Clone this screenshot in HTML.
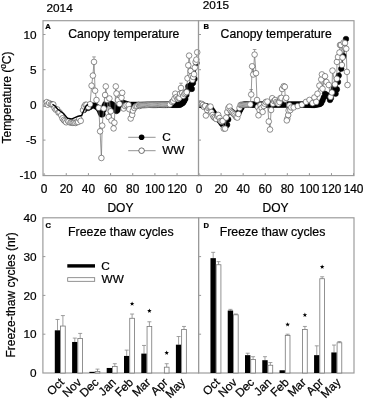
<!DOCTYPE html><html><head><meta charset="utf-8"><style>html,body{margin:0;padding:0;background:#fff;overflow:hidden}</style></head><body><svg width="365" height="400" viewBox="0 0 365 400" font-family="'Liberation Sans', sans-serif" style="display:block;filter:grayscale(1)">
<rect width="365" height="400" fill="#fff"/>
<style>text{stroke:#000;stroke-width:0.22px;fill:#000}</style>
<defs>
<clipPath id="cA"><rect x="43" y="20.7" width="158.5" height="154.9"/></clipPath>
<clipPath id="cB"><rect x="198.5" y="20.7" width="158.5" height="154.9"/></clipPath>
</defs>
<g clip-path="url(#cA)">
<polyline points="84,110 86,107.5 88,108 90,107 92,105.5 94,105.5 96,106.4 98,108 99.5,110 100.5,112.5 101.5,114.5 102.5,114.2 103.5,110 104.5,106 105.5,104 107,103 108.5,103 110,103.5 111.5,104 113,105 114.5,108 115.5,110 116.5,111 117.5,110 118.5,107 119.5,105 120.5,104 122,103 123.5,103 125,103.5 126.5,104 128,104.5 129.1,104.9 130.2,104.9 131.31,104.9 132.41,104.9 133.52,104.9 134.62,104.9 135.73,104.9 136.83,104.9 137.94,104.9 139.04,104.9 140.15,104.9 141.25,104.9 142.36,104.9 143.46,104.9 144.57,104.9 145.67,104.9 146.78,104.9 147.88,104.9 148.99,104.9 150.09,104.9 151.2,104.9 152.3,104.89 153.41,104.89 154.51,104.88 155.62,104.88 156.72,104.88 157.83,104.87 158.93,104.87 160.04,104.87 161.14,104.86 162.25,104.86 163.35,104.86 164.46,104.85 165.56,104.85 166.67,104.84 167.77,104.84 168.88,104.84 169.98,104.83 171.09,104.83 172.19,104.83 173.3,104.82 174.4,104.82 175.51,104.81 176.61,104.81 177.72,104.81 178.82,104.8 179.93,104.8 181,104 182.2,103.5 183.3,102.5 184.2,101 185.3,99 186.4,95 187.3,91 188.3,86.4 189.3,87 190.5,86 191.6,84 191.8,88.9 193,83 194.5,79 196.5,63" fill="none" stroke="#000" stroke-width="0.9" stroke-linejoin="round"/>
<circle cx="84" cy="110" r="2.8" fill="#000" stroke="#000" stroke-width="0.5"/>
<circle cx="86" cy="107.5" r="2.8" fill="#000" stroke="#000" stroke-width="0.5"/>
<circle cx="88" cy="108" r="2.8" fill="#000" stroke="#000" stroke-width="0.5"/>
<circle cx="90" cy="107" r="2.8" fill="#000" stroke="#000" stroke-width="0.5"/>
<circle cx="92" cy="105.5" r="2.8" fill="#000" stroke="#000" stroke-width="0.5"/>
<circle cx="94" cy="105.5" r="2.8" fill="#000" stroke="#000" stroke-width="0.5"/>
<circle cx="96" cy="106.4" r="2.8" fill="#000" stroke="#000" stroke-width="0.5"/>
<circle cx="98" cy="108" r="2.8" fill="#000" stroke="#000" stroke-width="0.5"/>
<circle cx="99.5" cy="110" r="2.8" fill="#000" stroke="#000" stroke-width="0.5"/>
<circle cx="100.5" cy="112.5" r="2.8" fill="#000" stroke="#000" stroke-width="0.5"/>
<circle cx="101.5" cy="114.5" r="2.8" fill="#000" stroke="#000" stroke-width="0.5"/>
<circle cx="102.5" cy="114.2" r="2.8" fill="#000" stroke="#000" stroke-width="0.5"/>
<circle cx="103.5" cy="110" r="2.8" fill="#000" stroke="#000" stroke-width="0.5"/>
<circle cx="104.5" cy="106" r="2.8" fill="#000" stroke="#000" stroke-width="0.5"/>
<circle cx="105.5" cy="104" r="2.8" fill="#000" stroke="#000" stroke-width="0.5"/>
<circle cx="107" cy="103" r="2.8" fill="#000" stroke="#000" stroke-width="0.5"/>
<circle cx="108.5" cy="103" r="2.8" fill="#000" stroke="#000" stroke-width="0.5"/>
<circle cx="110" cy="103.5" r="2.8" fill="#000" stroke="#000" stroke-width="0.5"/>
<circle cx="111.5" cy="104" r="2.8" fill="#000" stroke="#000" stroke-width="0.5"/>
<circle cx="113" cy="105" r="2.8" fill="#000" stroke="#000" stroke-width="0.5"/>
<circle cx="114.5" cy="108" r="2.8" fill="#000" stroke="#000" stroke-width="0.5"/>
<circle cx="115.5" cy="110" r="2.8" fill="#000" stroke="#000" stroke-width="0.5"/>
<circle cx="116.5" cy="111" r="2.8" fill="#000" stroke="#000" stroke-width="0.5"/>
<circle cx="117.5" cy="110" r="2.8" fill="#000" stroke="#000" stroke-width="0.5"/>
<circle cx="118.5" cy="107" r="2.8" fill="#000" stroke="#000" stroke-width="0.5"/>
<circle cx="119.5" cy="105" r="2.8" fill="#000" stroke="#000" stroke-width="0.5"/>
<circle cx="120.5" cy="104" r="2.8" fill="#000" stroke="#000" stroke-width="0.5"/>
<circle cx="122" cy="103" r="2.8" fill="#000" stroke="#000" stroke-width="0.5"/>
<circle cx="123.5" cy="103" r="2.8" fill="#000" stroke="#000" stroke-width="0.5"/>
<circle cx="125" cy="103.5" r="2.8" fill="#000" stroke="#000" stroke-width="0.5"/>
<circle cx="126.5" cy="104" r="2.8" fill="#000" stroke="#000" stroke-width="0.5"/>
<circle cx="128" cy="104.5" r="2.8" fill="#000" stroke="#000" stroke-width="0.5"/>
<circle cx="129.1" cy="104.9" r="2.8" fill="#000" stroke="#000" stroke-width="0.5"/>
<circle cx="130.2" cy="104.9" r="2.8" fill="#000" stroke="#000" stroke-width="0.5"/>
<circle cx="131.31" cy="104.9" r="2.8" fill="#000" stroke="#000" stroke-width="0.5"/>
<circle cx="132.41" cy="104.9" r="2.8" fill="#000" stroke="#000" stroke-width="0.5"/>
<circle cx="133.52" cy="104.9" r="2.8" fill="#000" stroke="#000" stroke-width="0.5"/>
<circle cx="134.62" cy="104.9" r="2.8" fill="#000" stroke="#000" stroke-width="0.5"/>
<circle cx="135.73" cy="104.9" r="2.8" fill="#000" stroke="#000" stroke-width="0.5"/>
<circle cx="136.83" cy="104.9" r="2.8" fill="#000" stroke="#000" stroke-width="0.5"/>
<circle cx="137.94" cy="104.9" r="2.8" fill="#000" stroke="#000" stroke-width="0.5"/>
<circle cx="139.04" cy="104.9" r="2.8" fill="#000" stroke="#000" stroke-width="0.5"/>
<circle cx="140.15" cy="104.9" r="2.8" fill="#000" stroke="#000" stroke-width="0.5"/>
<circle cx="141.25" cy="104.9" r="2.8" fill="#000" stroke="#000" stroke-width="0.5"/>
<circle cx="142.36" cy="104.9" r="2.8" fill="#000" stroke="#000" stroke-width="0.5"/>
<circle cx="143.46" cy="104.9" r="2.8" fill="#000" stroke="#000" stroke-width="0.5"/>
<circle cx="144.57" cy="104.9" r="2.8" fill="#000" stroke="#000" stroke-width="0.5"/>
<circle cx="145.67" cy="104.9" r="2.8" fill="#000" stroke="#000" stroke-width="0.5"/>
<circle cx="146.78" cy="104.9" r="2.8" fill="#000" stroke="#000" stroke-width="0.5"/>
<circle cx="147.88" cy="104.9" r="2.8" fill="#000" stroke="#000" stroke-width="0.5"/>
<circle cx="148.99" cy="104.9" r="2.8" fill="#000" stroke="#000" stroke-width="0.5"/>
<circle cx="150.09" cy="104.9" r="2.8" fill="#000" stroke="#000" stroke-width="0.5"/>
<circle cx="151.2" cy="104.9" r="2.8" fill="#000" stroke="#000" stroke-width="0.5"/>
<circle cx="152.3" cy="104.89" r="2.8" fill="#000" stroke="#000" stroke-width="0.5"/>
<circle cx="153.41" cy="104.89" r="2.8" fill="#000" stroke="#000" stroke-width="0.5"/>
<circle cx="154.51" cy="104.88" r="2.8" fill="#000" stroke="#000" stroke-width="0.5"/>
<circle cx="155.62" cy="104.88" r="2.8" fill="#000" stroke="#000" stroke-width="0.5"/>
<circle cx="156.72" cy="104.88" r="2.8" fill="#000" stroke="#000" stroke-width="0.5"/>
<circle cx="157.83" cy="104.87" r="2.8" fill="#000" stroke="#000" stroke-width="0.5"/>
<circle cx="158.93" cy="104.87" r="2.8" fill="#000" stroke="#000" stroke-width="0.5"/>
<circle cx="160.04" cy="104.87" r="2.8" fill="#000" stroke="#000" stroke-width="0.5"/>
<circle cx="161.14" cy="104.86" r="2.8" fill="#000" stroke="#000" stroke-width="0.5"/>
<circle cx="162.25" cy="104.86" r="2.8" fill="#000" stroke="#000" stroke-width="0.5"/>
<circle cx="163.35" cy="104.86" r="2.8" fill="#000" stroke="#000" stroke-width="0.5"/>
<circle cx="164.46" cy="104.85" r="2.8" fill="#000" stroke="#000" stroke-width="0.5"/>
<circle cx="165.56" cy="104.85" r="2.8" fill="#000" stroke="#000" stroke-width="0.5"/>
<circle cx="166.67" cy="104.84" r="2.8" fill="#000" stroke="#000" stroke-width="0.5"/>
<circle cx="167.77" cy="104.84" r="2.8" fill="#000" stroke="#000" stroke-width="0.5"/>
<circle cx="168.88" cy="104.84" r="2.8" fill="#000" stroke="#000" stroke-width="0.5"/>
<circle cx="169.98" cy="104.83" r="2.8" fill="#000" stroke="#000" stroke-width="0.5"/>
<circle cx="171.09" cy="104.83" r="2.8" fill="#000" stroke="#000" stroke-width="0.5"/>
<circle cx="172.19" cy="104.83" r="2.8" fill="#000" stroke="#000" stroke-width="0.5"/>
<circle cx="173.3" cy="104.82" r="2.8" fill="#000" stroke="#000" stroke-width="0.5"/>
<circle cx="174.4" cy="104.82" r="2.8" fill="#000" stroke="#000" stroke-width="0.5"/>
<circle cx="175.51" cy="104.81" r="2.8" fill="#000" stroke="#000" stroke-width="0.5"/>
<circle cx="176.61" cy="104.81" r="2.8" fill="#000" stroke="#000" stroke-width="0.5"/>
<circle cx="177.72" cy="104.81" r="2.8" fill="#000" stroke="#000" stroke-width="0.5"/>
<circle cx="178.82" cy="104.8" r="2.8" fill="#000" stroke="#000" stroke-width="0.5"/>
<circle cx="179.93" cy="104.8" r="2.8" fill="#000" stroke="#000" stroke-width="0.5"/>
<circle cx="181" cy="104" r="2.8" fill="#000" stroke="#000" stroke-width="0.5"/>
<circle cx="182.2" cy="103.5" r="2.8" fill="#000" stroke="#000" stroke-width="0.5"/>
<circle cx="183.3" cy="102.5" r="2.8" fill="#000" stroke="#000" stroke-width="0.5"/>
<circle cx="184.2" cy="101" r="2.8" fill="#000" stroke="#000" stroke-width="0.5"/>
<circle cx="185.3" cy="99" r="2.8" fill="#000" stroke="#000" stroke-width="0.5"/>
<circle cx="186.4" cy="95" r="2.8" fill="#000" stroke="#000" stroke-width="0.5"/>
<circle cx="187.3" cy="91" r="2.8" fill="#000" stroke="#000" stroke-width="0.5"/>
<circle cx="188.3" cy="86.4" r="2.8" fill="#000" stroke="#000" stroke-width="0.5"/>
<circle cx="189.3" cy="87" r="2.8" fill="#000" stroke="#000" stroke-width="0.5"/>
<circle cx="190.5" cy="86" r="2.8" fill="#000" stroke="#000" stroke-width="0.5"/>
<circle cx="191.6" cy="84" r="2.8" fill="#000" stroke="#000" stroke-width="0.5"/>
<circle cx="191.8" cy="88.9" r="2.8" fill="#000" stroke="#000" stroke-width="0.5"/>
<circle cx="193" cy="83" r="2.8" fill="#000" stroke="#000" stroke-width="0.5"/>
<circle cx="194.5" cy="79" r="2.8" fill="#000" stroke="#000" stroke-width="0.5"/>
<circle cx="196.5" cy="63" r="2.8" fill="#000" stroke="#000" stroke-width="0.5"/>
<polyline points="43.94,103.44 45.32,103.73 46.78,102.11 47.71,104.68 49.16,103.07 50.9,104.15 52.1,104.5 53.28,104.44 54.58,108.13 55.81,109.67 57.2,109.42 58.55,112.62 59.58,112.35 61.22,115.33 62.43,118.31 63.73,120.01 64.84,121.05 66.17,122.3 67.73,120.39 68.58,121.54 70.38,122.68 71.48,122.39 72.7,122.81 73.91,122.78 75.35,122.98 76.71,122.29 78.11,121.98 79.3,118.82 80.72,120.87 83,110.1 84.2,106.5 85.4,104.8 86.5,104.8 88.3,107 90.1,104.2 91.6,85.7 92.9,75.6 94,61.9 95.1,90.7 96.5,100 98.7,107.8 100.1,131.3 101.4,158 102.2,125.6 103.7,108.5 105.1,95 105.8,86.4 107,100 108.7,117 109.4,98.5 110.8,111.3 111.5,120.6 113.6,128.4 114.4,122.7 115.8,86.4 116.5,93.5 118,100 119.5,104 121.5,97.8 122.2,92.8 123.6,108.5 125,106 126.5,105 128.6,104.9 129.3,109.2 130.7,118.5 132.2,114.9 132.9,110.6 134.3,108 135.7,106.4 137,106 138.6,104.9 139.5,106 140.1,105.19 141.2,105.13 142.31,105.06 143.41,105 144.52,104.93 145.62,104.86 146.73,104.8 147.83,104.73 148.94,104.66 150.04,104.6 151.15,104.59 152.25,104.58 153.36,104.57 154.46,104.56 155.57,104.55 156.67,104.54 157.78,104.53 158.88,104.52 159.99,104.51 161.09,104.5 162.2,104.49 163.3,104.48 164.41,104.47 165.51,104.46 166.62,104.45 167.72,104.44 168.83,104.43 169.93,104.42 172,101.9 173.2,101 174.5,98.6 175.3,93.7 176.5,97 177.6,99 178.5,98 179.4,97.8 180.2,93.7 181,88 182.2,93 183.3,96 184.4,94 185.5,93 186.7,92.1 187.5,78.3 188.3,65.3 189.1,55.6 190.7,71 191.5,76 192.4,79.9 193.2,77 194,74.2 194.8,67.7 195.6,62 196.4,59.6 197.2,52.3" fill="none" stroke="#777" stroke-width="0.75" stroke-linejoin="round"/>
<circle cx="43.94" cy="103.44" r="2.8" fill="#fff" stroke="#444" stroke-width="0.6"/>
<circle cx="45.32" cy="103.73" r="2.8" fill="#fff" stroke="#444" stroke-width="0.6"/>
<circle cx="46.78" cy="102.11" r="2.8" fill="#fff" stroke="#444" stroke-width="0.6"/>
<circle cx="47.71" cy="104.68" r="2.8" fill="#fff" stroke="#444" stroke-width="0.6"/>
<circle cx="49.16" cy="103.07" r="2.8" fill="#fff" stroke="#444" stroke-width="0.6"/>
<circle cx="50.9" cy="104.15" r="2.8" fill="#fff" stroke="#444" stroke-width="0.6"/>
<circle cx="52.1" cy="104.5" r="2.8" fill="#fff" stroke="#444" stroke-width="0.6"/>
<circle cx="53.28" cy="104.44" r="2.8" fill="#fff" stroke="#444" stroke-width="0.6"/>
<circle cx="54.58" cy="108.13" r="2.8" fill="#fff" stroke="#444" stroke-width="0.6"/>
<circle cx="55.81" cy="109.67" r="2.8" fill="#fff" stroke="#444" stroke-width="0.6"/>
<circle cx="57.2" cy="109.42" r="2.8" fill="#fff" stroke="#444" stroke-width="0.6"/>
<circle cx="58.55" cy="112.62" r="2.8" fill="#fff" stroke="#444" stroke-width="0.6"/>
<circle cx="59.58" cy="112.35" r="2.8" fill="#fff" stroke="#444" stroke-width="0.6"/>
<circle cx="61.22" cy="115.33" r="2.8" fill="#fff" stroke="#444" stroke-width="0.6"/>
<circle cx="62.43" cy="118.31" r="2.8" fill="#fff" stroke="#444" stroke-width="0.6"/>
<circle cx="63.73" cy="120.01" r="2.8" fill="#fff" stroke="#444" stroke-width="0.6"/>
<circle cx="64.84" cy="121.05" r="2.8" fill="#fff" stroke="#444" stroke-width="0.6"/>
<circle cx="66.17" cy="122.3" r="2.8" fill="#fff" stroke="#444" stroke-width="0.6"/>
<circle cx="67.73" cy="120.39" r="2.8" fill="#fff" stroke="#444" stroke-width="0.6"/>
<circle cx="68.58" cy="121.54" r="2.8" fill="#fff" stroke="#444" stroke-width="0.6"/>
<circle cx="70.38" cy="122.68" r="2.8" fill="#fff" stroke="#444" stroke-width="0.6"/>
<circle cx="71.48" cy="122.39" r="2.8" fill="#fff" stroke="#444" stroke-width="0.6"/>
<circle cx="72.7" cy="122.81" r="2.8" fill="#fff" stroke="#444" stroke-width="0.6"/>
<circle cx="73.91" cy="122.78" r="2.8" fill="#fff" stroke="#444" stroke-width="0.6"/>
<circle cx="75.35" cy="122.98" r="2.8" fill="#fff" stroke="#444" stroke-width="0.6"/>
<circle cx="76.71" cy="122.29" r="2.8" fill="#fff" stroke="#444" stroke-width="0.6"/>
<circle cx="78.11" cy="121.98" r="2.8" fill="#fff" stroke="#444" stroke-width="0.6"/>
<circle cx="79.3" cy="118.82" r="2.8" fill="#fff" stroke="#444" stroke-width="0.6"/>
<circle cx="80.72" cy="120.87" r="2.8" fill="#fff" stroke="#444" stroke-width="0.6"/>
<circle cx="83" cy="110.1" r="2.8" fill="#fff" stroke="#444" stroke-width="0.6"/>
<circle cx="84.2" cy="106.5" r="2.8" fill="#fff" stroke="#444" stroke-width="0.6"/>
<circle cx="85.4" cy="104.8" r="2.8" fill="#fff" stroke="#444" stroke-width="0.6"/>
<circle cx="86.5" cy="104.8" r="2.8" fill="#fff" stroke="#444" stroke-width="0.6"/>
<circle cx="88.3" cy="107" r="2.8" fill="#fff" stroke="#444" stroke-width="0.6"/>
<circle cx="90.1" cy="104.2" r="2.8" fill="#fff" stroke="#444" stroke-width="0.6"/>
<circle cx="91.6" cy="85.7" r="2.8" fill="#fff" stroke="#444" stroke-width="0.6"/>
<circle cx="92.9" cy="75.6" r="2.8" fill="#fff" stroke="#444" stroke-width="0.6"/>
<circle cx="94" cy="61.9" r="2.8" fill="#fff" stroke="#444" stroke-width="0.6"/>
<circle cx="95.1" cy="90.7" r="2.8" fill="#fff" stroke="#444" stroke-width="0.6"/>
<circle cx="96.5" cy="100" r="2.8" fill="#fff" stroke="#444" stroke-width="0.6"/>
<circle cx="98.7" cy="107.8" r="2.8" fill="#fff" stroke="#444" stroke-width="0.6"/>
<circle cx="100.1" cy="131.3" r="2.8" fill="#fff" stroke="#444" stroke-width="0.6"/>
<circle cx="101.4" cy="158" r="2.8" fill="#fff" stroke="#444" stroke-width="0.6"/>
<circle cx="102.2" cy="125.6" r="2.8" fill="#fff" stroke="#444" stroke-width="0.6"/>
<circle cx="103.7" cy="108.5" r="2.8" fill="#fff" stroke="#444" stroke-width="0.6"/>
<circle cx="105.1" cy="95" r="2.8" fill="#fff" stroke="#444" stroke-width="0.6"/>
<circle cx="105.8" cy="86.4" r="2.8" fill="#fff" stroke="#444" stroke-width="0.6"/>
<circle cx="107" cy="100" r="2.8" fill="#fff" stroke="#444" stroke-width="0.6"/>
<circle cx="108.7" cy="117" r="2.8" fill="#fff" stroke="#444" stroke-width="0.6"/>
<circle cx="109.4" cy="98.5" r="2.8" fill="#fff" stroke="#444" stroke-width="0.6"/>
<circle cx="110.8" cy="111.3" r="2.8" fill="#fff" stroke="#444" stroke-width="0.6"/>
<circle cx="111.5" cy="120.6" r="2.8" fill="#fff" stroke="#444" stroke-width="0.6"/>
<circle cx="113.6" cy="128.4" r="2.8" fill="#fff" stroke="#444" stroke-width="0.6"/>
<circle cx="114.4" cy="122.7" r="2.8" fill="#fff" stroke="#444" stroke-width="0.6"/>
<circle cx="115.8" cy="86.4" r="2.8" fill="#fff" stroke="#444" stroke-width="0.6"/>
<circle cx="116.5" cy="93.5" r="2.8" fill="#fff" stroke="#444" stroke-width="0.6"/>
<circle cx="118" cy="100" r="2.8" fill="#fff" stroke="#444" stroke-width="0.6"/>
<circle cx="119.5" cy="104" r="2.8" fill="#fff" stroke="#444" stroke-width="0.6"/>
<circle cx="121.5" cy="97.8" r="2.8" fill="#fff" stroke="#444" stroke-width="0.6"/>
<circle cx="122.2" cy="92.8" r="2.8" fill="#fff" stroke="#444" stroke-width="0.6"/>
<circle cx="123.6" cy="108.5" r="2.8" fill="#fff" stroke="#444" stroke-width="0.6"/>
<circle cx="125" cy="106" r="2.8" fill="#fff" stroke="#444" stroke-width="0.6"/>
<circle cx="126.5" cy="105" r="2.8" fill="#fff" stroke="#444" stroke-width="0.6"/>
<circle cx="128.6" cy="104.9" r="2.8" fill="#fff" stroke="#444" stroke-width="0.6"/>
<circle cx="129.3" cy="109.2" r="2.8" fill="#fff" stroke="#444" stroke-width="0.6"/>
<circle cx="130.7" cy="118.5" r="2.8" fill="#fff" stroke="#444" stroke-width="0.6"/>
<circle cx="132.2" cy="114.9" r="2.8" fill="#fff" stroke="#444" stroke-width="0.6"/>
<circle cx="132.9" cy="110.6" r="2.8" fill="#fff" stroke="#444" stroke-width="0.6"/>
<circle cx="134.3" cy="108" r="2.8" fill="#fff" stroke="#444" stroke-width="0.6"/>
<circle cx="135.7" cy="106.4" r="2.8" fill="#fff" stroke="#444" stroke-width="0.6"/>
<circle cx="137" cy="106" r="2.8" fill="#fff" stroke="#444" stroke-width="0.6"/>
<circle cx="138.6" cy="104.9" r="2.8" fill="#fff" stroke="#444" stroke-width="0.6"/>
<circle cx="139.5" cy="106" r="2.8" fill="#fff" stroke="#444" stroke-width="0.6"/>
<circle cx="140.1" cy="105.19" r="2.8" fill="#fff" stroke="#444" stroke-width="0.6"/>
<circle cx="141.2" cy="105.13" r="2.8" fill="#fff" stroke="#444" stroke-width="0.6"/>
<circle cx="142.31" cy="105.06" r="2.8" fill="#fff" stroke="#444" stroke-width="0.6"/>
<circle cx="143.41" cy="105" r="2.8" fill="#fff" stroke="#444" stroke-width="0.6"/>
<circle cx="144.52" cy="104.93" r="2.8" fill="#fff" stroke="#444" stroke-width="0.6"/>
<circle cx="145.62" cy="104.86" r="2.8" fill="#fff" stroke="#444" stroke-width="0.6"/>
<circle cx="146.73" cy="104.8" r="2.8" fill="#fff" stroke="#444" stroke-width="0.6"/>
<circle cx="147.83" cy="104.73" r="2.8" fill="#fff" stroke="#444" stroke-width="0.6"/>
<circle cx="148.94" cy="104.66" r="2.8" fill="#fff" stroke="#444" stroke-width="0.6"/>
<circle cx="150.04" cy="104.6" r="2.8" fill="#fff" stroke="#444" stroke-width="0.6"/>
<circle cx="151.15" cy="104.59" r="2.8" fill="#fff" stroke="#444" stroke-width="0.6"/>
<circle cx="152.25" cy="104.58" r="2.8" fill="#fff" stroke="#444" stroke-width="0.6"/>
<circle cx="153.36" cy="104.57" r="2.8" fill="#fff" stroke="#444" stroke-width="0.6"/>
<circle cx="154.46" cy="104.56" r="2.8" fill="#fff" stroke="#444" stroke-width="0.6"/>
<circle cx="155.57" cy="104.55" r="2.8" fill="#fff" stroke="#444" stroke-width="0.6"/>
<circle cx="156.67" cy="104.54" r="2.8" fill="#fff" stroke="#444" stroke-width="0.6"/>
<circle cx="157.78" cy="104.53" r="2.8" fill="#fff" stroke="#444" stroke-width="0.6"/>
<circle cx="158.88" cy="104.52" r="2.8" fill="#fff" stroke="#444" stroke-width="0.6"/>
<circle cx="159.99" cy="104.51" r="2.8" fill="#fff" stroke="#444" stroke-width="0.6"/>
<circle cx="161.09" cy="104.5" r="2.8" fill="#fff" stroke="#444" stroke-width="0.6"/>
<circle cx="162.2" cy="104.49" r="2.8" fill="#fff" stroke="#444" stroke-width="0.6"/>
<circle cx="163.3" cy="104.48" r="2.8" fill="#fff" stroke="#444" stroke-width="0.6"/>
<circle cx="164.41" cy="104.47" r="2.8" fill="#fff" stroke="#444" stroke-width="0.6"/>
<circle cx="165.51" cy="104.46" r="2.8" fill="#fff" stroke="#444" stroke-width="0.6"/>
<circle cx="166.62" cy="104.45" r="2.8" fill="#fff" stroke="#444" stroke-width="0.6"/>
<circle cx="167.72" cy="104.44" r="2.8" fill="#fff" stroke="#444" stroke-width="0.6"/>
<circle cx="168.83" cy="104.43" r="2.8" fill="#fff" stroke="#444" stroke-width="0.6"/>
<circle cx="169.93" cy="104.42" r="2.8" fill="#fff" stroke="#444" stroke-width="0.6"/>
<circle cx="172" cy="101.9" r="2.8" fill="#fff" stroke="#444" stroke-width="0.6"/>
<circle cx="173.2" cy="101" r="2.8" fill="#fff" stroke="#444" stroke-width="0.6"/>
<circle cx="174.5" cy="98.6" r="2.8" fill="#fff" stroke="#444" stroke-width="0.6"/>
<circle cx="175.3" cy="93.7" r="2.8" fill="#fff" stroke="#444" stroke-width="0.6"/>
<circle cx="176.5" cy="97" r="2.8" fill="#fff" stroke="#444" stroke-width="0.6"/>
<circle cx="177.6" cy="99" r="2.8" fill="#fff" stroke="#444" stroke-width="0.6"/>
<circle cx="178.5" cy="98" r="2.8" fill="#fff" stroke="#444" stroke-width="0.6"/>
<circle cx="179.4" cy="97.8" r="2.8" fill="#fff" stroke="#444" stroke-width="0.6"/>
<circle cx="180.2" cy="93.7" r="2.8" fill="#fff" stroke="#444" stroke-width="0.6"/>
<circle cx="181" cy="88" r="2.8" fill="#fff" stroke="#444" stroke-width="0.6"/>
<circle cx="182.2" cy="93" r="2.8" fill="#fff" stroke="#444" stroke-width="0.6"/>
<circle cx="183.3" cy="96" r="2.8" fill="#fff" stroke="#444" stroke-width="0.6"/>
<circle cx="184.4" cy="94" r="2.8" fill="#fff" stroke="#444" stroke-width="0.6"/>
<circle cx="185.5" cy="93" r="2.8" fill="#fff" stroke="#444" stroke-width="0.6"/>
<circle cx="186.7" cy="92.1" r="2.8" fill="#fff" stroke="#444" stroke-width="0.6"/>
<circle cx="187.5" cy="78.3" r="2.8" fill="#fff" stroke="#444" stroke-width="0.6"/>
<circle cx="188.3" cy="65.3" r="2.8" fill="#fff" stroke="#444" stroke-width="0.6"/>
<circle cx="189.1" cy="55.6" r="2.8" fill="#fff" stroke="#444" stroke-width="0.6"/>
<circle cx="190.7" cy="71" r="2.8" fill="#fff" stroke="#444" stroke-width="0.6"/>
<circle cx="191.5" cy="76" r="2.8" fill="#fff" stroke="#444" stroke-width="0.6"/>
<circle cx="192.4" cy="79.9" r="2.8" fill="#fff" stroke="#444" stroke-width="0.6"/>
<circle cx="193.2" cy="77" r="2.8" fill="#fff" stroke="#444" stroke-width="0.6"/>
<circle cx="194" cy="74.2" r="2.8" fill="#fff" stroke="#444" stroke-width="0.6"/>
<circle cx="194.8" cy="67.7" r="2.8" fill="#fff" stroke="#444" stroke-width="0.6"/>
<circle cx="195.6" cy="62" r="2.8" fill="#fff" stroke="#444" stroke-width="0.6"/>
<circle cx="196.4" cy="59.6" r="2.8" fill="#fff" stroke="#444" stroke-width="0.6"/>
<circle cx="197.2" cy="52.3" r="2.8" fill="#fff" stroke="#444" stroke-width="0.6"/>
<polyline points="52.5,104.2 55,106 57.75,109.25 63.3,113.2 67.6,118.4 72,118.9 78.2,116.2 81.7,115.4 83,112.3 86,106 88,104.5" fill="none" stroke="#000" stroke-width="1.4" stroke-linejoin="round"/>
<path d="M94 59.1V56.9M92.2 56.9H95.8" stroke="#777" stroke-width="0.7" fill="none"/>
<path d="M181 85.2V83.2M179.2 83.2H182.8" stroke="#777" stroke-width="0.7" fill="none"/>
</g>
<g clip-path="url(#cB)">
<polyline points="199.5,104.5 200.6,104.8 201.71,105.1 202.81,105.4 203.92,105.71 205.02,106.01 206.13,106.34 207.23,106.67 208.34,107 209.44,107.33 210.55,108.28 211.65,109.84 212.76,111.41 213.86,112.98 214.97,114.54 216.07,116.09 217.18,117.47 218.28,118.86 219.39,120.24 220.49,121.66 221.6,123.13 222.7,124.61 223.81,125.4 224.91,125.96 226.02,125.39 227.12,124.73 228.23,119.52 229.33,111.28 230.44,110.75 231.54,111.64 232.65,112.49 233.75,113.32 234.86,114.14 235.96,114.97 237.07,114.47 238.17,113.67 239.28,111.58 240.38,109.49 241.49,107.54 242.59,105.68 244,104.6 245.1,104.6 246.21,104.59 247.31,104.59 248.42,104.59 249.52,104.59 250.63,104.59 251.73,104.58 252.84,104.58 253.94,104.58 255.05,104.58 256.15,104.58 257.26,104.57 258.36,104.57 259.47,104.57 260.57,104.57 261.68,104.57 262.79,104.57 263.89,104.56 265,104.56 266.1,104.56 267.21,104.56 268.31,104.56 269.42,104.55 270.52,104.55 271.63,104.55 272.73,104.55 273.84,104.55 274.94,104.54 276.05,104.54 277.15,104.54 278.26,104.54 279.36,104.54 280.47,104.53 281.57,104.53 282.68,104.53 283.78,104.53 284.89,104.53 285.99,104.52 287.1,104.52 288.2,104.52 289.31,104.52 290.41,104.52 291.52,104.51 292.62,104.51 293.73,104.51 294.83,104.51 295.94,104.51 297.04,104.51 298.15,104.5 299.25,104.5 300.36,104.51 301.46,104.55 302.57,104.58 303.67,104.61 304.78,104.65 305.88,104.68 306.99,104.72 308.09,104.75 309.2,104.79 310.3,104.82 311.41,104.86 312.51,104.89 313.62,104.93 314.72,104.96 316.25,104.6 317.5,104.5 318.75,104.3 320,104 321.25,103 322.5,100.5 323.75,97.5 325,93.75 327,95 329,97 330,100 331,98 332.5,92 333.75,88.75 334.4,86.9 335.6,93.75 336.9,89.4 338,82 338.75,75.6 341.25,68.75 343.5,56 346,39" fill="none" stroke="#000" stroke-width="0.9" stroke-linejoin="round"/>
<circle cx="199.5" cy="104.5" r="2.8" fill="#000" stroke="#000" stroke-width="0.5"/>
<circle cx="200.6" cy="104.8" r="2.8" fill="#000" stroke="#000" stroke-width="0.5"/>
<circle cx="201.71" cy="105.1" r="2.8" fill="#000" stroke="#000" stroke-width="0.5"/>
<circle cx="202.81" cy="105.4" r="2.8" fill="#000" stroke="#000" stroke-width="0.5"/>
<circle cx="203.92" cy="105.71" r="2.8" fill="#000" stroke="#000" stroke-width="0.5"/>
<circle cx="205.02" cy="106.01" r="2.8" fill="#000" stroke="#000" stroke-width="0.5"/>
<circle cx="206.13" cy="106.34" r="2.8" fill="#000" stroke="#000" stroke-width="0.5"/>
<circle cx="207.23" cy="106.67" r="2.8" fill="#000" stroke="#000" stroke-width="0.5"/>
<circle cx="208.34" cy="107" r="2.8" fill="#000" stroke="#000" stroke-width="0.5"/>
<circle cx="209.44" cy="107.33" r="2.8" fill="#000" stroke="#000" stroke-width="0.5"/>
<circle cx="210.55" cy="108.28" r="2.8" fill="#000" stroke="#000" stroke-width="0.5"/>
<circle cx="211.65" cy="109.84" r="2.8" fill="#000" stroke="#000" stroke-width="0.5"/>
<circle cx="212.76" cy="111.41" r="2.8" fill="#000" stroke="#000" stroke-width="0.5"/>
<circle cx="213.86" cy="112.98" r="2.8" fill="#000" stroke="#000" stroke-width="0.5"/>
<circle cx="214.97" cy="114.54" r="2.8" fill="#000" stroke="#000" stroke-width="0.5"/>
<circle cx="216.07" cy="116.09" r="2.8" fill="#000" stroke="#000" stroke-width="0.5"/>
<circle cx="217.18" cy="117.47" r="2.8" fill="#000" stroke="#000" stroke-width="0.5"/>
<circle cx="218.28" cy="118.86" r="2.8" fill="#000" stroke="#000" stroke-width="0.5"/>
<circle cx="219.39" cy="120.24" r="2.8" fill="#000" stroke="#000" stroke-width="0.5"/>
<circle cx="220.49" cy="121.66" r="2.8" fill="#000" stroke="#000" stroke-width="0.5"/>
<circle cx="221.6" cy="123.13" r="2.8" fill="#000" stroke="#000" stroke-width="0.5"/>
<circle cx="222.7" cy="124.61" r="2.8" fill="#000" stroke="#000" stroke-width="0.5"/>
<circle cx="223.81" cy="125.4" r="2.8" fill="#000" stroke="#000" stroke-width="0.5"/>
<circle cx="224.91" cy="125.96" r="2.8" fill="#000" stroke="#000" stroke-width="0.5"/>
<circle cx="226.02" cy="125.39" r="2.8" fill="#000" stroke="#000" stroke-width="0.5"/>
<circle cx="227.12" cy="124.73" r="2.8" fill="#000" stroke="#000" stroke-width="0.5"/>
<circle cx="228.23" cy="119.52" r="2.8" fill="#000" stroke="#000" stroke-width="0.5"/>
<circle cx="229.33" cy="111.28" r="2.8" fill="#000" stroke="#000" stroke-width="0.5"/>
<circle cx="230.44" cy="110.75" r="2.8" fill="#000" stroke="#000" stroke-width="0.5"/>
<circle cx="231.54" cy="111.64" r="2.8" fill="#000" stroke="#000" stroke-width="0.5"/>
<circle cx="232.65" cy="112.49" r="2.8" fill="#000" stroke="#000" stroke-width="0.5"/>
<circle cx="233.75" cy="113.32" r="2.8" fill="#000" stroke="#000" stroke-width="0.5"/>
<circle cx="234.86" cy="114.14" r="2.8" fill="#000" stroke="#000" stroke-width="0.5"/>
<circle cx="235.96" cy="114.97" r="2.8" fill="#000" stroke="#000" stroke-width="0.5"/>
<circle cx="237.07" cy="114.47" r="2.8" fill="#000" stroke="#000" stroke-width="0.5"/>
<circle cx="238.17" cy="113.67" r="2.8" fill="#000" stroke="#000" stroke-width="0.5"/>
<circle cx="239.28" cy="111.58" r="2.8" fill="#000" stroke="#000" stroke-width="0.5"/>
<circle cx="240.38" cy="109.49" r="2.8" fill="#000" stroke="#000" stroke-width="0.5"/>
<circle cx="241.49" cy="107.54" r="2.8" fill="#000" stroke="#000" stroke-width="0.5"/>
<circle cx="242.59" cy="105.68" r="2.8" fill="#000" stroke="#000" stroke-width="0.5"/>
<circle cx="244" cy="104.6" r="2.8" fill="#000" stroke="#000" stroke-width="0.5"/>
<circle cx="245.1" cy="104.6" r="2.8" fill="#000" stroke="#000" stroke-width="0.5"/>
<circle cx="246.21" cy="104.59" r="2.8" fill="#000" stroke="#000" stroke-width="0.5"/>
<circle cx="247.31" cy="104.59" r="2.8" fill="#000" stroke="#000" stroke-width="0.5"/>
<circle cx="248.42" cy="104.59" r="2.8" fill="#000" stroke="#000" stroke-width="0.5"/>
<circle cx="249.52" cy="104.59" r="2.8" fill="#000" stroke="#000" stroke-width="0.5"/>
<circle cx="250.63" cy="104.59" r="2.8" fill="#000" stroke="#000" stroke-width="0.5"/>
<circle cx="251.73" cy="104.58" r="2.8" fill="#000" stroke="#000" stroke-width="0.5"/>
<circle cx="252.84" cy="104.58" r="2.8" fill="#000" stroke="#000" stroke-width="0.5"/>
<circle cx="253.94" cy="104.58" r="2.8" fill="#000" stroke="#000" stroke-width="0.5"/>
<circle cx="255.05" cy="104.58" r="2.8" fill="#000" stroke="#000" stroke-width="0.5"/>
<circle cx="256.15" cy="104.58" r="2.8" fill="#000" stroke="#000" stroke-width="0.5"/>
<circle cx="257.26" cy="104.57" r="2.8" fill="#000" stroke="#000" stroke-width="0.5"/>
<circle cx="258.36" cy="104.57" r="2.8" fill="#000" stroke="#000" stroke-width="0.5"/>
<circle cx="259.47" cy="104.57" r="2.8" fill="#000" stroke="#000" stroke-width="0.5"/>
<circle cx="260.57" cy="104.57" r="2.8" fill="#000" stroke="#000" stroke-width="0.5"/>
<circle cx="261.68" cy="104.57" r="2.8" fill="#000" stroke="#000" stroke-width="0.5"/>
<circle cx="262.79" cy="104.57" r="2.8" fill="#000" stroke="#000" stroke-width="0.5"/>
<circle cx="263.89" cy="104.56" r="2.8" fill="#000" stroke="#000" stroke-width="0.5"/>
<circle cx="265" cy="104.56" r="2.8" fill="#000" stroke="#000" stroke-width="0.5"/>
<circle cx="266.1" cy="104.56" r="2.8" fill="#000" stroke="#000" stroke-width="0.5"/>
<circle cx="267.21" cy="104.56" r="2.8" fill="#000" stroke="#000" stroke-width="0.5"/>
<circle cx="268.31" cy="104.56" r="2.8" fill="#000" stroke="#000" stroke-width="0.5"/>
<circle cx="269.42" cy="104.55" r="2.8" fill="#000" stroke="#000" stroke-width="0.5"/>
<circle cx="270.52" cy="104.55" r="2.8" fill="#000" stroke="#000" stroke-width="0.5"/>
<circle cx="271.63" cy="104.55" r="2.8" fill="#000" stroke="#000" stroke-width="0.5"/>
<circle cx="272.73" cy="104.55" r="2.8" fill="#000" stroke="#000" stroke-width="0.5"/>
<circle cx="273.84" cy="104.55" r="2.8" fill="#000" stroke="#000" stroke-width="0.5"/>
<circle cx="274.94" cy="104.54" r="2.8" fill="#000" stroke="#000" stroke-width="0.5"/>
<circle cx="276.05" cy="104.54" r="2.8" fill="#000" stroke="#000" stroke-width="0.5"/>
<circle cx="277.15" cy="104.54" r="2.8" fill="#000" stroke="#000" stroke-width="0.5"/>
<circle cx="278.26" cy="104.54" r="2.8" fill="#000" stroke="#000" stroke-width="0.5"/>
<circle cx="279.36" cy="104.54" r="2.8" fill="#000" stroke="#000" stroke-width="0.5"/>
<circle cx="280.47" cy="104.53" r="2.8" fill="#000" stroke="#000" stroke-width="0.5"/>
<circle cx="281.57" cy="104.53" r="2.8" fill="#000" stroke="#000" stroke-width="0.5"/>
<circle cx="282.68" cy="104.53" r="2.8" fill="#000" stroke="#000" stroke-width="0.5"/>
<circle cx="283.78" cy="104.53" r="2.8" fill="#000" stroke="#000" stroke-width="0.5"/>
<circle cx="284.89" cy="104.53" r="2.8" fill="#000" stroke="#000" stroke-width="0.5"/>
<circle cx="285.99" cy="104.52" r="2.8" fill="#000" stroke="#000" stroke-width="0.5"/>
<circle cx="287.1" cy="104.52" r="2.8" fill="#000" stroke="#000" stroke-width="0.5"/>
<circle cx="288.2" cy="104.52" r="2.8" fill="#000" stroke="#000" stroke-width="0.5"/>
<circle cx="289.31" cy="104.52" r="2.8" fill="#000" stroke="#000" stroke-width="0.5"/>
<circle cx="290.41" cy="104.52" r="2.8" fill="#000" stroke="#000" stroke-width="0.5"/>
<circle cx="291.52" cy="104.51" r="2.8" fill="#000" stroke="#000" stroke-width="0.5"/>
<circle cx="292.62" cy="104.51" r="2.8" fill="#000" stroke="#000" stroke-width="0.5"/>
<circle cx="293.73" cy="104.51" r="2.8" fill="#000" stroke="#000" stroke-width="0.5"/>
<circle cx="294.83" cy="104.51" r="2.8" fill="#000" stroke="#000" stroke-width="0.5"/>
<circle cx="295.94" cy="104.51" r="2.8" fill="#000" stroke="#000" stroke-width="0.5"/>
<circle cx="297.04" cy="104.51" r="2.8" fill="#000" stroke="#000" stroke-width="0.5"/>
<circle cx="298.15" cy="104.5" r="2.8" fill="#000" stroke="#000" stroke-width="0.5"/>
<circle cx="299.25" cy="104.5" r="2.8" fill="#000" stroke="#000" stroke-width="0.5"/>
<circle cx="300.36" cy="104.51" r="2.8" fill="#000" stroke="#000" stroke-width="0.5"/>
<circle cx="301.46" cy="104.55" r="2.8" fill="#000" stroke="#000" stroke-width="0.5"/>
<circle cx="302.57" cy="104.58" r="2.8" fill="#000" stroke="#000" stroke-width="0.5"/>
<circle cx="303.67" cy="104.61" r="2.8" fill="#000" stroke="#000" stroke-width="0.5"/>
<circle cx="304.78" cy="104.65" r="2.8" fill="#000" stroke="#000" stroke-width="0.5"/>
<circle cx="305.88" cy="104.68" r="2.8" fill="#000" stroke="#000" stroke-width="0.5"/>
<circle cx="306.99" cy="104.72" r="2.8" fill="#000" stroke="#000" stroke-width="0.5"/>
<circle cx="308.09" cy="104.75" r="2.8" fill="#000" stroke="#000" stroke-width="0.5"/>
<circle cx="309.2" cy="104.79" r="2.8" fill="#000" stroke="#000" stroke-width="0.5"/>
<circle cx="310.3" cy="104.82" r="2.8" fill="#000" stroke="#000" stroke-width="0.5"/>
<circle cx="311.41" cy="104.86" r="2.8" fill="#000" stroke="#000" stroke-width="0.5"/>
<circle cx="312.51" cy="104.89" r="2.8" fill="#000" stroke="#000" stroke-width="0.5"/>
<circle cx="313.62" cy="104.93" r="2.8" fill="#000" stroke="#000" stroke-width="0.5"/>
<circle cx="314.72" cy="104.96" r="2.8" fill="#000" stroke="#000" stroke-width="0.5"/>
<circle cx="316.25" cy="104.6" r="2.8" fill="#000" stroke="#000" stroke-width="0.5"/>
<circle cx="317.5" cy="104.5" r="2.8" fill="#000" stroke="#000" stroke-width="0.5"/>
<circle cx="318.75" cy="104.3" r="2.8" fill="#000" stroke="#000" stroke-width="0.5"/>
<circle cx="320" cy="104" r="2.8" fill="#000" stroke="#000" stroke-width="0.5"/>
<circle cx="321.25" cy="103" r="2.8" fill="#000" stroke="#000" stroke-width="0.5"/>
<circle cx="322.5" cy="100.5" r="2.8" fill="#000" stroke="#000" stroke-width="0.5"/>
<circle cx="323.75" cy="97.5" r="2.8" fill="#000" stroke="#000" stroke-width="0.5"/>
<circle cx="325" cy="93.75" r="2.8" fill="#000" stroke="#000" stroke-width="0.5"/>
<circle cx="327" cy="95" r="2.8" fill="#000" stroke="#000" stroke-width="0.5"/>
<circle cx="329" cy="97" r="2.8" fill="#000" stroke="#000" stroke-width="0.5"/>
<circle cx="330" cy="100" r="2.8" fill="#000" stroke="#000" stroke-width="0.5"/>
<circle cx="331" cy="98" r="2.8" fill="#000" stroke="#000" stroke-width="0.5"/>
<circle cx="332.5" cy="92" r="2.8" fill="#000" stroke="#000" stroke-width="0.5"/>
<circle cx="333.75" cy="88.75" r="2.8" fill="#000" stroke="#000" stroke-width="0.5"/>
<circle cx="334.4" cy="86.9" r="2.8" fill="#000" stroke="#000" stroke-width="0.5"/>
<circle cx="335.6" cy="93.75" r="2.8" fill="#000" stroke="#000" stroke-width="0.5"/>
<circle cx="336.9" cy="89.4" r="2.8" fill="#000" stroke="#000" stroke-width="0.5"/>
<circle cx="338" cy="82" r="2.8" fill="#000" stroke="#000" stroke-width="0.5"/>
<circle cx="338.75" cy="75.6" r="2.8" fill="#000" stroke="#000" stroke-width="0.5"/>
<circle cx="341.25" cy="68.75" r="2.8" fill="#000" stroke="#000" stroke-width="0.5"/>
<circle cx="343.5" cy="56" r="2.8" fill="#000" stroke="#000" stroke-width="0.5"/>
<circle cx="346" cy="39" r="2.8" fill="#000" stroke="#000" stroke-width="0.5"/>
<polyline points="199.5,103.5 200.6,104 201.8,103.9 202.9,105 204,107 205.2,106 205.9,115.5 207.2,110 208.3,108 209.4,107 210.5,106.6 211.4,112.1 212.6,115 213.7,117 214.8,118 216.2,119 217.3,116 218.2,114.9 219.5,118 220.5,121 221.6,121.7 222.7,121 223.8,128.6 225.1,128.6 226.2,117.6 227.3,112 228.4,108 229.5,106.6 230.6,110.8 231.7,112 232.8,113 234,114.2 235.1,115.5 236.2,117 237.3,117.6 238.4,114 239.5,108 240.6,105 241.7,104.8 242.8,104.8 243.9,104.7 245,104.7 246.1,104.7 247.2,104.7 248.3,104.6 249.4,104.5 250.3,104.4 251.2,94.5 252.1,66.3 253.2,74.5 254.6,54.6 256,73.2 257,100 257.8,107.1 258.5,115.3 259.5,110 260.5,105.1 261.6,108 262.6,111.9 263.7,106 264.7,103.7 265.8,102 267.4,101.6 268.8,121.5 270,129.5 271.1,110 272.2,98.2 272.9,103.7 274,101 275.1,100 276.2,102 277.3,103 278.4,103.7 279.5,102 280.4,98.2 281.4,97.9 282.1,89 283.75,86.25 284.8,86.8 285.2,99.6 286.2,97.9 287.3,118.8 286.8,120.4 288.2,115 288.6,110.5 289.6,105.3 290.3,110.1 291.25,107.5 293.7,107.4 297.8,106 301.9,104.7 306,101.9 309.5,99.9 312.5,103.1 314.4,97.5 316.25,101.9 317.5,93.75 319.4,85.6 321.25,79.4 321.9,74.4 322.5,88.75 325,76.25 326.5,82 328.75,85 330.6,96.9 331.9,92.5 332.5,70.6 335,84.4 336.9,78.75 336.9,61.9 338,57 339.5,52.5 340,45 341,45 341.9,65 342.5,57.5 343.75,42.5 345,43 345,48 346.25,48.75 346.9,71.9 347.5,85" fill="none" stroke="#777" stroke-width="0.75" stroke-linejoin="round"/>
<circle cx="199.5" cy="103.5" r="2.8" fill="#fff" stroke="#444" stroke-width="0.6"/>
<circle cx="200.6" cy="104" r="2.8" fill="#fff" stroke="#444" stroke-width="0.6"/>
<circle cx="201.8" cy="103.9" r="2.8" fill="#fff" stroke="#444" stroke-width="0.6"/>
<circle cx="202.9" cy="105" r="2.8" fill="#fff" stroke="#444" stroke-width="0.6"/>
<circle cx="204" cy="107" r="2.8" fill="#fff" stroke="#444" stroke-width="0.6"/>
<circle cx="205.2" cy="106" r="2.8" fill="#fff" stroke="#444" stroke-width="0.6"/>
<circle cx="205.9" cy="115.5" r="2.8" fill="#fff" stroke="#444" stroke-width="0.6"/>
<circle cx="207.2" cy="110" r="2.8" fill="#fff" stroke="#444" stroke-width="0.6"/>
<circle cx="208.3" cy="108" r="2.8" fill="#fff" stroke="#444" stroke-width="0.6"/>
<circle cx="209.4" cy="107" r="2.8" fill="#fff" stroke="#444" stroke-width="0.6"/>
<circle cx="210.5" cy="106.6" r="2.8" fill="#fff" stroke="#444" stroke-width="0.6"/>
<circle cx="211.4" cy="112.1" r="2.8" fill="#fff" stroke="#444" stroke-width="0.6"/>
<circle cx="212.6" cy="115" r="2.8" fill="#fff" stroke="#444" stroke-width="0.6"/>
<circle cx="213.7" cy="117" r="2.8" fill="#fff" stroke="#444" stroke-width="0.6"/>
<circle cx="214.8" cy="118" r="2.8" fill="#fff" stroke="#444" stroke-width="0.6"/>
<circle cx="216.2" cy="119" r="2.8" fill="#fff" stroke="#444" stroke-width="0.6"/>
<circle cx="217.3" cy="116" r="2.8" fill="#fff" stroke="#444" stroke-width="0.6"/>
<circle cx="218.2" cy="114.9" r="2.8" fill="#fff" stroke="#444" stroke-width="0.6"/>
<circle cx="219.5" cy="118" r="2.8" fill="#fff" stroke="#444" stroke-width="0.6"/>
<circle cx="220.5" cy="121" r="2.8" fill="#fff" stroke="#444" stroke-width="0.6"/>
<circle cx="221.6" cy="121.7" r="2.8" fill="#fff" stroke="#444" stroke-width="0.6"/>
<circle cx="222.7" cy="121" r="2.8" fill="#fff" stroke="#444" stroke-width="0.6"/>
<circle cx="223.8" cy="128.6" r="2.8" fill="#fff" stroke="#444" stroke-width="0.6"/>
<circle cx="225.1" cy="128.6" r="2.8" fill="#fff" stroke="#444" stroke-width="0.6"/>
<circle cx="226.2" cy="117.6" r="2.8" fill="#fff" stroke="#444" stroke-width="0.6"/>
<circle cx="227.3" cy="112" r="2.8" fill="#fff" stroke="#444" stroke-width="0.6"/>
<circle cx="228.4" cy="108" r="2.8" fill="#fff" stroke="#444" stroke-width="0.6"/>
<circle cx="229.5" cy="106.6" r="2.8" fill="#fff" stroke="#444" stroke-width="0.6"/>
<circle cx="230.6" cy="110.8" r="2.8" fill="#fff" stroke="#444" stroke-width="0.6"/>
<circle cx="231.7" cy="112" r="2.8" fill="#fff" stroke="#444" stroke-width="0.6"/>
<circle cx="232.8" cy="113" r="2.8" fill="#fff" stroke="#444" stroke-width="0.6"/>
<circle cx="234" cy="114.2" r="2.8" fill="#fff" stroke="#444" stroke-width="0.6"/>
<circle cx="235.1" cy="115.5" r="2.8" fill="#fff" stroke="#444" stroke-width="0.6"/>
<circle cx="236.2" cy="117" r="2.8" fill="#fff" stroke="#444" stroke-width="0.6"/>
<circle cx="237.3" cy="117.6" r="2.8" fill="#fff" stroke="#444" stroke-width="0.6"/>
<circle cx="238.4" cy="114" r="2.8" fill="#fff" stroke="#444" stroke-width="0.6"/>
<circle cx="239.5" cy="108" r="2.8" fill="#fff" stroke="#444" stroke-width="0.6"/>
<circle cx="240.6" cy="105" r="2.8" fill="#fff" stroke="#444" stroke-width="0.6"/>
<circle cx="241.7" cy="104.8" r="2.8" fill="#fff" stroke="#444" stroke-width="0.6"/>
<circle cx="242.8" cy="104.8" r="2.8" fill="#fff" stroke="#444" stroke-width="0.6"/>
<circle cx="243.9" cy="104.7" r="2.8" fill="#fff" stroke="#444" stroke-width="0.6"/>
<circle cx="245" cy="104.7" r="2.8" fill="#fff" stroke="#444" stroke-width="0.6"/>
<circle cx="246.1" cy="104.7" r="2.8" fill="#fff" stroke="#444" stroke-width="0.6"/>
<circle cx="247.2" cy="104.7" r="2.8" fill="#fff" stroke="#444" stroke-width="0.6"/>
<circle cx="248.3" cy="104.6" r="2.8" fill="#fff" stroke="#444" stroke-width="0.6"/>
<circle cx="249.4" cy="104.5" r="2.8" fill="#fff" stroke="#444" stroke-width="0.6"/>
<circle cx="250.3" cy="104.4" r="2.8" fill="#fff" stroke="#444" stroke-width="0.6"/>
<circle cx="251.2" cy="94.5" r="2.8" fill="#fff" stroke="#444" stroke-width="0.6"/>
<circle cx="252.1" cy="66.3" r="2.8" fill="#fff" stroke="#444" stroke-width="0.6"/>
<circle cx="253.2" cy="74.5" r="2.8" fill="#fff" stroke="#444" stroke-width="0.6"/>
<circle cx="254.6" cy="54.6" r="2.8" fill="#fff" stroke="#444" stroke-width="0.6"/>
<circle cx="256" cy="73.2" r="2.8" fill="#fff" stroke="#444" stroke-width="0.6"/>
<circle cx="257" cy="100" r="2.8" fill="#fff" stroke="#444" stroke-width="0.6"/>
<circle cx="257.8" cy="107.1" r="2.8" fill="#fff" stroke="#444" stroke-width="0.6"/>
<circle cx="258.5" cy="115.3" r="2.8" fill="#fff" stroke="#444" stroke-width="0.6"/>
<circle cx="259.5" cy="110" r="2.8" fill="#fff" stroke="#444" stroke-width="0.6"/>
<circle cx="260.5" cy="105.1" r="2.8" fill="#fff" stroke="#444" stroke-width="0.6"/>
<circle cx="261.6" cy="108" r="2.8" fill="#fff" stroke="#444" stroke-width="0.6"/>
<circle cx="262.6" cy="111.9" r="2.8" fill="#fff" stroke="#444" stroke-width="0.6"/>
<circle cx="263.7" cy="106" r="2.8" fill="#fff" stroke="#444" stroke-width="0.6"/>
<circle cx="264.7" cy="103.7" r="2.8" fill="#fff" stroke="#444" stroke-width="0.6"/>
<circle cx="265.8" cy="102" r="2.8" fill="#fff" stroke="#444" stroke-width="0.6"/>
<circle cx="267.4" cy="101.6" r="2.8" fill="#fff" stroke="#444" stroke-width="0.6"/>
<circle cx="268.8" cy="121.5" r="2.8" fill="#fff" stroke="#444" stroke-width="0.6"/>
<circle cx="270" cy="129.5" r="2.8" fill="#fff" stroke="#444" stroke-width="0.6"/>
<circle cx="271.1" cy="110" r="2.8" fill="#fff" stroke="#444" stroke-width="0.6"/>
<circle cx="272.2" cy="98.2" r="2.8" fill="#fff" stroke="#444" stroke-width="0.6"/>
<circle cx="272.9" cy="103.7" r="2.8" fill="#fff" stroke="#444" stroke-width="0.6"/>
<circle cx="274" cy="101" r="2.8" fill="#fff" stroke="#444" stroke-width="0.6"/>
<circle cx="275.1" cy="100" r="2.8" fill="#fff" stroke="#444" stroke-width="0.6"/>
<circle cx="276.2" cy="102" r="2.8" fill="#fff" stroke="#444" stroke-width="0.6"/>
<circle cx="277.3" cy="103" r="2.8" fill="#fff" stroke="#444" stroke-width="0.6"/>
<circle cx="278.4" cy="103.7" r="2.8" fill="#fff" stroke="#444" stroke-width="0.6"/>
<circle cx="279.5" cy="102" r="2.8" fill="#fff" stroke="#444" stroke-width="0.6"/>
<circle cx="280.4" cy="98.2" r="2.8" fill="#fff" stroke="#444" stroke-width="0.6"/>
<circle cx="281.4" cy="97.9" r="2.8" fill="#fff" stroke="#444" stroke-width="0.6"/>
<circle cx="282.1" cy="89" r="2.8" fill="#fff" stroke="#444" stroke-width="0.6"/>
<circle cx="283.75" cy="86.25" r="2.8" fill="#fff" stroke="#444" stroke-width="0.6"/>
<circle cx="284.8" cy="86.8" r="2.8" fill="#fff" stroke="#444" stroke-width="0.6"/>
<circle cx="285.2" cy="99.6" r="2.8" fill="#fff" stroke="#444" stroke-width="0.6"/>
<circle cx="286.2" cy="97.9" r="2.8" fill="#fff" stroke="#444" stroke-width="0.6"/>
<circle cx="287.3" cy="118.8" r="2.8" fill="#fff" stroke="#444" stroke-width="0.6"/>
<circle cx="286.8" cy="120.4" r="2.8" fill="#fff" stroke="#444" stroke-width="0.6"/>
<circle cx="288.2" cy="115" r="2.8" fill="#fff" stroke="#444" stroke-width="0.6"/>
<circle cx="288.6" cy="110.5" r="2.8" fill="#fff" stroke="#444" stroke-width="0.6"/>
<circle cx="289.6" cy="105.3" r="2.8" fill="#fff" stroke="#444" stroke-width="0.6"/>
<circle cx="290.3" cy="110.1" r="2.8" fill="#fff" stroke="#444" stroke-width="0.6"/>
<circle cx="291.25" cy="107.5" r="2.8" fill="#fff" stroke="#444" stroke-width="0.6"/>
<circle cx="293.7" cy="107.4" r="2.8" fill="#fff" stroke="#444" stroke-width="0.6"/>
<circle cx="297.8" cy="106" r="2.8" fill="#fff" stroke="#444" stroke-width="0.6"/>
<circle cx="301.9" cy="104.7" r="2.8" fill="#fff" stroke="#444" stroke-width="0.6"/>
<circle cx="306" cy="101.9" r="2.8" fill="#fff" stroke="#444" stroke-width="0.6"/>
<circle cx="309.5" cy="99.9" r="2.8" fill="#fff" stroke="#444" stroke-width="0.6"/>
<circle cx="312.5" cy="103.1" r="2.8" fill="#fff" stroke="#444" stroke-width="0.6"/>
<circle cx="314.4" cy="97.5" r="2.8" fill="#fff" stroke="#444" stroke-width="0.6"/>
<circle cx="316.25" cy="101.9" r="2.8" fill="#fff" stroke="#444" stroke-width="0.6"/>
<circle cx="317.5" cy="93.75" r="2.8" fill="#fff" stroke="#444" stroke-width="0.6"/>
<circle cx="319.4" cy="85.6" r="2.8" fill="#fff" stroke="#444" stroke-width="0.6"/>
<circle cx="321.25" cy="79.4" r="2.8" fill="#fff" stroke="#444" stroke-width="0.6"/>
<circle cx="321.9" cy="74.4" r="2.8" fill="#fff" stroke="#444" stroke-width="0.6"/>
<circle cx="322.5" cy="88.75" r="2.8" fill="#fff" stroke="#444" stroke-width="0.6"/>
<circle cx="325" cy="76.25" r="2.8" fill="#fff" stroke="#444" stroke-width="0.6"/>
<circle cx="326.5" cy="82" r="2.8" fill="#fff" stroke="#444" stroke-width="0.6"/>
<circle cx="328.75" cy="85" r="2.8" fill="#fff" stroke="#444" stroke-width="0.6"/>
<circle cx="330.6" cy="96.9" r="2.8" fill="#fff" stroke="#444" stroke-width="0.6"/>
<circle cx="331.9" cy="92.5" r="2.8" fill="#fff" stroke="#444" stroke-width="0.6"/>
<circle cx="332.5" cy="70.6" r="2.8" fill="#fff" stroke="#444" stroke-width="0.6"/>
<circle cx="335" cy="84.4" r="2.8" fill="#fff" stroke="#444" stroke-width="0.6"/>
<circle cx="336.9" cy="78.75" r="2.8" fill="#fff" stroke="#444" stroke-width="0.6"/>
<circle cx="336.9" cy="61.9" r="2.8" fill="#fff" stroke="#444" stroke-width="0.6"/>
<circle cx="338" cy="57" r="2.8" fill="#fff" stroke="#444" stroke-width="0.6"/>
<circle cx="339.5" cy="52.5" r="2.8" fill="#fff" stroke="#444" stroke-width="0.6"/>
<circle cx="340" cy="45" r="2.8" fill="#fff" stroke="#444" stroke-width="0.6"/>
<circle cx="341" cy="45" r="2.8" fill="#fff" stroke="#444" stroke-width="0.6"/>
<circle cx="341.9" cy="65" r="2.8" fill="#fff" stroke="#444" stroke-width="0.6"/>
<circle cx="342.5" cy="57.5" r="2.8" fill="#fff" stroke="#444" stroke-width="0.6"/>
<circle cx="343.75" cy="42.5" r="2.8" fill="#fff" stroke="#444" stroke-width="0.6"/>
<circle cx="345" cy="43" r="2.8" fill="#fff" stroke="#444" stroke-width="0.6"/>
<circle cx="345" cy="48" r="2.8" fill="#fff" stroke="#444" stroke-width="0.6"/>
<circle cx="346.25" cy="48.75" r="2.8" fill="#fff" stroke="#444" stroke-width="0.6"/>
<circle cx="346.9" cy="71.9" r="2.8" fill="#fff" stroke="#444" stroke-width="0.6"/>
<circle cx="347.5" cy="85" r="2.8" fill="#fff" stroke="#444" stroke-width="0.6"/>
<path d="M251.2 91.7V89.6M249.4 89.6H253" stroke="#777" stroke-width="0.7" fill="none"/>
<path d="M254.6 51.8V49.5M252.8 49.5H256.4" stroke="#777" stroke-width="0.7" fill="none"/>
</g>
<rect x="43" y="20.7" width="155.5" height="154.9" fill="none" stroke="#999" stroke-width="1.15"/>
<rect x="198.5" y="20.7" width="155.5" height="154.9" fill="none" stroke="#999" stroke-width="1.15"/>
<rect x="42.9" y="217.8" width="155.7" height="155.2" fill="none" stroke="#999" stroke-width="1.15"/>
<rect x="198.6" y="217.8" width="155.4" height="155.2" fill="none" stroke="#999" stroke-width="1.15"/>
<path d="M43 34.5h2.5 M198.5 34.5h2.5 M43 69.7h2.5 M198.5 69.7h2.5 M43 104.9h2.5 M198.5 104.9h2.5 M43 140.1h2.5 M198.5 140.1h2.5 M43 175.3h2.5 M198.5 175.3h2.5 M44.1 175.6v-2.5 M199 175.6v-2.5 M66.26 175.6v-2.5 M221.08 175.6v-2.5 M88.42 175.6v-2.5 M243.16 175.6v-2.5 M110.58 175.6v-2.5 M265.24 175.6v-2.5 M132.74 175.6v-2.5 M287.32 175.6v-2.5 M154.9 175.6v-2.5 M309.4 175.6v-2.5 M177.06 175.6v-2.5 M331.48 175.6v-2.5 M353.56 175.6v-2.5 M42.9 334.2h2.5 M198.6 334.2h2.5 M42.9 295.4h2.5 M198.6 295.4h2.5 M42.9 256.6h2.5 M198.6 256.6h2.5" stroke="#999" stroke-width="1" fill="none"/>
<text x="36.6" y="38.6" font-size="11.8" text-anchor="end" font-weight="normal" >10</text>
<text x="36.6" y="73.8" font-size="11.8" text-anchor="end" font-weight="normal" >5</text>
<text x="36.6" y="109" font-size="11.8" text-anchor="end" font-weight="normal" >0</text>
<text x="36.6" y="144.2" font-size="11.8" text-anchor="end" font-weight="normal" >-5</text>
<text x="36.6" y="179.4" font-size="11.8" text-anchor="end" font-weight="normal" >-10</text>
<text x="36.6" y="221.9" font-size="11.8" text-anchor="end" font-weight="normal" >40</text>
<text x="36.6" y="260.7" font-size="11.8" text-anchor="end" font-weight="normal" >30</text>
<text x="36.6" y="299.5" font-size="11.8" text-anchor="end" font-weight="normal" >20</text>
<text x="36.6" y="338.3" font-size="11.8" text-anchor="end" font-weight="normal" >10</text>
<text x="36.6" y="377.1" font-size="11.8" text-anchor="end" font-weight="normal" >0</text>
<text x="44.1" y="193.3" font-size="11.9" text-anchor="middle" font-weight="normal" >0</text>
<text x="66.26" y="193.3" font-size="11.9" text-anchor="middle" font-weight="normal" >20</text>
<text x="88.42" y="193.3" font-size="11.9" text-anchor="middle" font-weight="normal" >40</text>
<text x="110.58" y="193.3" font-size="11.9" text-anchor="middle" font-weight="normal" >60</text>
<text x="132.74" y="193.3" font-size="11.9" text-anchor="middle" font-weight="normal" >80</text>
<text x="154.9" y="193.3" font-size="11.9" text-anchor="middle" font-weight="normal" >100</text>
<text x="177.06" y="193.3" font-size="11.9" text-anchor="middle" font-weight="normal" >120</text>
<text x="199" y="193.3" font-size="11.9" text-anchor="middle" font-weight="normal" >0</text>
<text x="221.08" y="193.3" font-size="11.9" text-anchor="middle" font-weight="normal" >20</text>
<text x="243.16" y="193.3" font-size="11.9" text-anchor="middle" font-weight="normal" >40</text>
<text x="265.24" y="193.3" font-size="11.9" text-anchor="middle" font-weight="normal" >60</text>
<text x="287.32" y="193.3" font-size="11.9" text-anchor="middle" font-weight="normal" >80</text>
<text x="309.4" y="193.3" font-size="11.9" text-anchor="middle" font-weight="normal" >100</text>
<text x="331.48" y="193.3" font-size="11.9" text-anchor="middle" font-weight="normal" >120</text>
<text x="353.56" y="193.3" font-size="11.9" text-anchor="middle" font-weight="normal" >140</text>
<text x="120.4" y="212.4" font-size="12" text-anchor="middle" font-weight="normal" >DOY</text>
<text x="275.5" y="212.4" font-size="12" text-anchor="middle" font-weight="normal" >DOY</text>
<text x="46.5" y="11.6" font-size="11.8" text-anchor="start" font-weight="normal" >2014</text>
<text x="202.8" y="9.3" font-size="11.8" text-anchor="start" font-weight="normal" >2015</text>
<text x="45.2" y="29.3" font-size="7.6" text-anchor="start" font-weight="bold" >A</text>
<text x="203.5" y="29.3" font-size="7.6" text-anchor="start" font-weight="bold" >B</text>
<text x="45.5" y="228.1" font-size="7.6" text-anchor="start" font-weight="bold" >C</text>
<text x="203.5" y="228.4" font-size="7.6" text-anchor="start" font-weight="bold" >D</text>
<text x="68.2" y="37.8" font-size="12.2" text-anchor="start" font-weight="normal" >Canopy temperature</text>
<text x="220.6" y="37.9" font-size="12.2" text-anchor="start" font-weight="normal" >Canopy temperature</text>
<text x="68" y="236" font-size="12.35" text-anchor="start" font-weight="normal" >Freeze thaw cycles</text>
<text x="219.7" y="236.4" font-size="12.35" text-anchor="start" font-weight="normal" >Freeze thaw cycles</text>
<text transform="translate(11.4,97.5) rotate(-90)" font-size="12" text-anchor="middle">Temperature (<tspan font-size="8.5" dy="-5.5">o</tspan><tspan dy="5.5">C)</tspan></text>
<text transform="translate(15,294.9) rotate(-90)" font-size="12" text-anchor="middle">Freeze-thaw cycles (nr)</text>
<path d="M128.2 137.3H155.6M128.2 150.7H155.6" stroke="#888" stroke-width="0.9"/>
<circle cx="141.6" cy="137.3" r="2.8" fill="#000"/>
<circle cx="141.6" cy="150.7" r="2.8" fill="#fff" stroke="#333" stroke-width="0.7"/>
<text x="162.2" y="140.9" font-size="11.8" text-anchor="start" font-weight="normal" >C</text>
<text x="162.2" y="154.3" font-size="11.8" text-anchor="start" font-weight="normal" >WW</text>
<path d="M57.5 330.32V319.46M55.5 319.46H59.5" stroke="#888" stroke-width="0.8" fill="none"/>
<path d="M62.9 326.05V315.58M60.9 315.58H64.9" stroke="#888" stroke-width="0.8" fill="none"/>
<rect x="54.8" y="330.32" width="5.4" height="42.68" fill="#000"/>
<rect x="60.55" y="326.05" width="4.7" height="46.95" fill="#fff" stroke="#777" stroke-width="0.8"/>
<text transform="translate(64.8,383) rotate(-45)" font-size="11.8" text-anchor="end">Oct</text>
<path d="M74.8 341.96V338.08M72.8 338.08H76.8" stroke="#888" stroke-width="0.8" fill="none"/>
<path d="M80.2 338.47V333.42M78.2 333.42H82.2" stroke="#888" stroke-width="0.8" fill="none"/>
<rect x="72.1" y="341.96" width="5.4" height="31.04" fill="#000"/>
<rect x="77.85" y="338.47" width="4.7" height="34.53" fill="#fff" stroke="#777" stroke-width="0.8"/>
<text transform="translate(82.1,383) rotate(-45)" font-size="11.8" text-anchor="end">Nov</text>
<path d="M97.5 371.45V369.12M95.5 369.12H99.5" stroke="#888" stroke-width="0.8" fill="none"/>
<rect x="89.4" y="371.84" width="5.4" height="1.16" fill="#000"/>
<rect x="95.15" y="371.45" width="4.7" height="1.55" fill="#fff" stroke="#777" stroke-width="0.8"/>
<text transform="translate(99.4,383) rotate(-45)" font-size="11.8" text-anchor="end">Dec</text>
<path d="M114.8 366.4V363.69M112.8 363.69H116.8" stroke="#888" stroke-width="0.8" fill="none"/>
<rect x="106.7" y="367.96" width="5.4" height="5.04" fill="#000"/>
<rect x="112.45" y="366.4" width="4.7" height="6.6" fill="#fff" stroke="#777" stroke-width="0.8"/>
<text transform="translate(116.7,383) rotate(-45)" font-size="11.8" text-anchor="end">Jan</text>
<path d="M126.7 355.93V350.11M124.7 350.11H128.7" stroke="#888" stroke-width="0.8" fill="none"/>
<path d="M132.1 318.29V314.02M130.1 314.02H134.1" stroke="#888" stroke-width="0.8" fill="none"/>
<rect x="124" y="355.93" width="5.4" height="17.07" fill="#000"/>
<rect x="129.75" y="318.29" width="4.7" height="54.71" fill="#fff" stroke="#777" stroke-width="0.8"/>
<polygon points="132.1,301.4 132.69,302.99 134.38,303.06 133.05,304.11 133.51,305.74 132.1,304.8 130.69,305.74 131.15,304.11 129.82,303.06 131.51,302.99" fill="#000"/>
<text transform="translate(134,383) rotate(-45)" font-size="11.8" text-anchor="end">Feb</text>
<path d="M144 353.6V345.45M142 345.45H146" stroke="#888" stroke-width="0.8" fill="none"/>
<path d="M149.4 326.44V321.78M147.4 321.78H151.4" stroke="#888" stroke-width="0.8" fill="none"/>
<rect x="141.3" y="353.6" width="5.4" height="19.4" fill="#000"/>
<rect x="147.05" y="326.44" width="4.7" height="46.56" fill="#fff" stroke="#777" stroke-width="0.8"/>
<polygon points="149.4,308.5 149.99,310.09 151.68,310.16 150.35,311.21 150.81,312.84 149.4,311.9 147.99,312.84 148.45,311.21 147.12,310.16 148.81,310.09" fill="#000"/>
<text transform="translate(151.3,383) rotate(-45)" font-size="11.8" text-anchor="end">Mar</text>
<path d="M166.7 367.18V363.69M164.7 363.69H168.7" stroke="#888" stroke-width="0.8" fill="none"/>
<rect x="164.35" y="367.18" width="4.7" height="5.82" fill="#fff" stroke="#777" stroke-width="0.8"/>
<polygon points="166.7,350.5 167.29,352.09 168.98,352.16 167.65,353.21 168.11,354.84 166.7,353.9 165.29,354.84 165.75,353.21 164.42,352.16 166.11,352.09" fill="#000"/>
<text transform="translate(168.6,383) rotate(-45)" font-size="11.8" text-anchor="end">Apr</text>
<path d="M178.6 344.68V336.53M176.6 336.53H180.6" stroke="#888" stroke-width="0.8" fill="none"/>
<path d="M184 329.54V326.44M182 326.44H186" stroke="#888" stroke-width="0.8" fill="none"/>
<rect x="175.9" y="344.68" width="5.4" height="28.32" fill="#000"/>
<rect x="181.65" y="329.54" width="4.7" height="43.46" fill="#fff" stroke="#777" stroke-width="0.8"/>
<text transform="translate(185.9,383) rotate(-45)" font-size="11.8" text-anchor="end">May</text>
<path d="M213.17 258.15V252.33M211.17 252.33H215.17" stroke="#888" stroke-width="0.8" fill="none"/>
<path d="M218.57 264.75V261.64M216.57 261.64H220.57" stroke="#888" stroke-width="0.8" fill="none"/>
<rect x="210.47" y="258.15" width="5.4" height="114.85" fill="#000"/>
<rect x="216.22" y="264.75" width="4.7" height="108.25" fill="#fff" stroke="#777" stroke-width="0.8"/>
<text transform="translate(220.47,383) rotate(-45)" font-size="11.8" text-anchor="end">Oct</text>
<path d="M230.43 310.53V309.37M228.43 309.37H232.43" stroke="#888" stroke-width="0.8" fill="none"/>
<path d="M235.83 314.8V314.02M233.83 314.02H237.83" stroke="#888" stroke-width="0.8" fill="none"/>
<rect x="227.73" y="310.53" width="5.4" height="62.47" fill="#000"/>
<rect x="233.48" y="314.8" width="4.7" height="58.2" fill="#fff" stroke="#777" stroke-width="0.8"/>
<text transform="translate(237.73,383) rotate(-45)" font-size="11.8" text-anchor="end">Nov</text>
<path d="M247.7 355.15V353.21M245.7 353.21H249.7" stroke="#888" stroke-width="0.8" fill="none"/>
<path d="M253.1 359.42V356.7M251.1 356.7H255.1" stroke="#888" stroke-width="0.8" fill="none"/>
<rect x="245" y="355.15" width="5.4" height="17.85" fill="#000"/>
<rect x="250.75" y="359.42" width="4.7" height="13.58" fill="#fff" stroke="#777" stroke-width="0.8"/>
<text transform="translate(255,383) rotate(-45)" font-size="11.8" text-anchor="end">Dec</text>
<path d="M264.97 360.2V356.7M262.97 356.7H266.97" stroke="#888" stroke-width="0.8" fill="none"/>
<path d="M270.37 365.24V362.52M268.37 362.52H272.37" stroke="#888" stroke-width="0.8" fill="none"/>
<rect x="262.27" y="360.2" width="5.4" height="12.8" fill="#000"/>
<rect x="268.02" y="365.24" width="4.7" height="7.76" fill="#fff" stroke="#777" stroke-width="0.8"/>
<text transform="translate(272.27,383) rotate(-45)" font-size="11.8" text-anchor="end">Jan</text>
<path d="M287.63 335.36V334.2M285.63 334.2H289.63" stroke="#888" stroke-width="0.8" fill="none"/>
<rect x="279.53" y="370.28" width="5.4" height="2.72" fill="#000"/>
<rect x="285.28" y="335.36" width="4.7" height="37.64" fill="#fff" stroke="#777" stroke-width="0.8"/>
<polygon points="287.63,322.2 288.22,323.79 289.92,323.86 288.58,324.91 289.04,326.54 287.63,325.6 286.22,326.54 286.68,324.91 285.35,323.86 287.05,323.79" fill="#000"/>
<text transform="translate(289.53,383) rotate(-45)" font-size="11.8" text-anchor="end">Feb</text>
<path d="M304.9 329.54V326.44M302.9 326.44H306.9" stroke="#888" stroke-width="0.8" fill="none"/>
<rect x="302.55" y="329.54" width="4.7" height="43.46" fill="#fff" stroke="#777" stroke-width="0.8"/>
<polygon points="304.9,312.6 305.49,314.19 307.18,314.26 305.85,315.31 306.31,316.94 304.9,316 303.49,316.94 303.95,315.31 302.62,314.26 304.31,314.19" fill="#000"/>
<text transform="translate(306.8,383) rotate(-45)" font-size="11.8" text-anchor="end">Mar</text>
<path d="M316.77 355.15V345.84M314.77 345.84H318.77" stroke="#888" stroke-width="0.8" fill="none"/>
<path d="M322.17 278.72V276.78M320.17 276.78H324.17" stroke="#888" stroke-width="0.8" fill="none"/>
<rect x="314.07" y="355.15" width="5.4" height="17.85" fill="#000"/>
<rect x="319.82" y="278.72" width="4.7" height="94.28" fill="#fff" stroke="#777" stroke-width="0.8"/>
<polygon points="322.17,264.5 322.75,266.09 324.45,266.16 323.12,267.21 323.58,268.84 322.17,267.9 320.76,268.84 321.22,267.21 319.88,266.16 321.58,266.09" fill="#000"/>
<text transform="translate(324.07,383) rotate(-45)" font-size="11.8" text-anchor="end">Apr</text>
<path d="M334.03 352.44V345.06M332.03 345.06H336.03" stroke="#888" stroke-width="0.8" fill="none"/>
<path d="M339.43 342.74V341.57M337.43 341.57H341.43" stroke="#888" stroke-width="0.8" fill="none"/>
<rect x="331.33" y="352.44" width="5.4" height="20.56" fill="#000"/>
<rect x="337.08" y="342.74" width="4.7" height="30.26" fill="#fff" stroke="#777" stroke-width="0.8"/>
<text transform="translate(341.33,383) rotate(-45)" font-size="11.8" text-anchor="end">May</text>
<rect x="67.3" y="264.2" width="27.7" height="3.4" fill="#000"/>
<rect x="67.7" y="277.7" width="27" height="3.6" fill="#fff" stroke="#777" stroke-width="0.8"/>
<text x="101.3" y="269.9" font-size="11.8" text-anchor="start" font-weight="normal" >C</text>
<text x="101.6" y="283.4" font-size="11.8" text-anchor="start" font-weight="normal" >WW</text>
</svg></body></html>
